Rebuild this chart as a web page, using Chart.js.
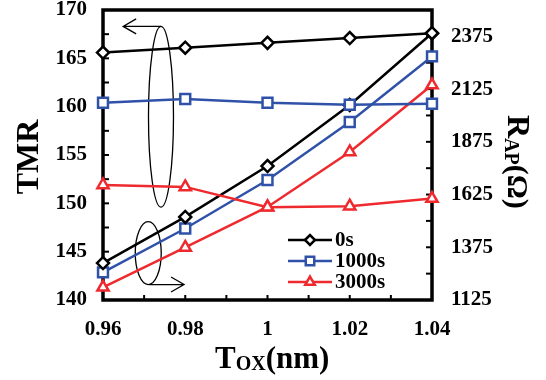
<!DOCTYPE html>
<html>
<head>
<meta charset="utf-8">
<script src="https://cdn.jsdelivr.net/npm/chart.js@4"></script>
<style>
  html, body { margin: 0; padding: 0; background: #fff; }
  #wrap { width: 546px; height: 380px; }
</style>
</head>
<body>
<div id="wrap"><canvas id="myChart"></canvas></div>
<script>
// datos
const tox = [0.96, 0.98, 1.0, 1.02, 1.04];
const series = ["0s", "1000s", "3000s"];

const tmr0 = [165.6, 166.1, 166.6, 167.1, 167.6];
const tmr1000 = [160.4, 160.8, 160.4, 160.2, 160.3];
const tmr3000 = [151.9, 151.7, 149.6, 149.7, 150.5];

const rap0 = [1300, 1519, 1760, 2050, 2390];
const rap1000 = [1256, 1464, 1694, 1969, 2280];
const rap3000 = [1185, 1374, 1566, 1827, 2144];

const xTicks = [0.96, 0.97, 0.98, 0.99, 1.0, 1.01, 1.02, 1.03, 1.04];
const rTicks = [1125, 1250, 1375, 1500, 1625, 1750, 1875, 2000, 2125, 2250, 2375, 2500];

const colores = ["#000000", "#2f52a8", "#ee2a2f"];
const marcas = ["rectRot", "rect", "triangle"];
const radios = [6, 7, 6.5];
const FONT = "'Liberation Serif', 'Times New Roman', serif";

const pares = (ys) => ys.map((y, i) => ({ x: tox[i], y: y }));

const serie = (label, ys, k, eje) => ({
	label: label,
	data: pares(ys),
	yAxisID: eje,
	borderColor: colores[k],
	backgroundColor: "#ffffff",
	borderWidth: 2.5,
	pointStyle: marcas[k],
	pointRadius: radios[k],
	pointBorderWidth: 2.5,
	pointBackgroundColor: "#ffffff",
	pointBorderColor: colores[k],
	tension: 0,
	clip: false,
});

// quita el relleno automatico de las escalas para fijar el area del grafico
const sinPadding = (s) => {
	s.paddingTop = 0;
	s.paddingBottom = 0;
	s.paddingLeft = 0;
	s.paddingRight = 0;
};

// marco, ticks hacia adentro, leyenda, elipses y titulos
const extras = {
	id: "extras",
	beforeDatasetsDraw(chart) {
		const { ctx, chartArea: a, scales } = chart;
		ctx.save();
		ctx.strokeStyle = "#000";
		ctx.lineWidth = 3.5;
		ctx.strokeRect(a.left, a.top, a.right - a.left, a.bottom - a.top);
		ctx.lineWidth = 2;
		scales.y.ticks.forEach((t) => {
			const y = scales.y.getPixelForValue(t.value);
			ctx.beginPath(); ctx.moveTo(a.left, y); ctx.lineTo(a.left + 6, y); ctx.stroke();
		});
		scales.y2.ticks.forEach((t) => {
			const y = scales.y2.getPixelForValue(t.value);
			ctx.beginPath(); ctx.moveTo(a.right, y); ctx.lineTo(a.right - 6, y); ctx.stroke();
		});
		scales.x.ticks.forEach((t) => {
			const x = scales.x.getPixelForValue(t.value);
			ctx.beginPath(); ctx.moveTo(x, a.bottom); ctx.lineTo(x, a.bottom - 5); ctx.stroke();
		});

		// elipses con flechas
		const px = (v) => scales.x.getPixelForValue(v);
		const py = (v) => scales.y.getPixelForValue(v);
		ctx.lineWidth = 1.3;
		const elipse = (cx, y1, y2, rx) => {
			ctx.beginPath();
			ctx.ellipse(px(cx), (py(y1) + py(y2)) / 2, rx, Math.abs(py(y1) - py(y2)) / 2, 0, 0, Math.PI * 2);
			ctx.stroke();
		};
		const flecha = (x1, x2, yv) => {
			const y = py(yv), xa = px(x1), xb = px(x2);
			const d = xb > xa ? -1 : 1;
			ctx.beginPath();
			ctx.moveTo(xa, y); ctx.lineTo(xb, y);
			ctx.moveTo(xb + d * 13, y - 7.5); ctx.lineTo(xb, y); ctx.lineTo(xb + d * 13, y + 7.5);
			ctx.stroke();
		};
		elipse(0.9741, 168.3, 149.6, 12.5);
		flecha(0.9741, 0.9649, 168.3);
		elipse(0.9710, 148.1, 141.6, 13);
		flecha(0.9712, 0.9797, 141.6);
		ctx.restore();
	},
	afterDatasetsDraw(chart) {
		const { ctx, chartArea: a } = chart;
		ctx.save();
		// leyenda
		series.forEach((s, k) => {
			const y = a.top + 230 + k * 21;
			const x0 = a.left + 185;
			ctx.strokeStyle = colores[k];
			ctx.lineWidth = 2.5;
			ctx.beginPath(); ctx.moveTo(x0, y); ctx.lineTo(x0 + 44, y); ctx.stroke();
			ctx.fillStyle = "#ffffff";
			Chart.helpers.drawPoint(ctx, { pointStyle: marcas[k], radius: radios[k] - 1, borderWidth: 2.5 }, x0 + 22, y);
			ctx.fillStyle = "#000";
			ctx.font = "bold 21px " + FONT;
			ctx.textBaseline = "middle";
			ctx.textAlign = "left";
			ctx.fillText(s, x0 + 47, y + 1);
		});

		ctx.fillStyle = "#000";
		ctx.textBaseline = "alphabetic";
		ctx.textAlign = "left";
		// titulo eje x: T_OX(nm)
		let x = 215;
		const yb = 368;
		ctx.font = "bold 31px " + FONT;
		ctx.fillText("T", x, yb);
		x += ctx.measureText("T").width;
		ctx.font = "bold 20px " + FONT;
		ctx.fillText("OX", x, yb + 2);
		x += ctx.measureText("OX").width;
		ctx.font = "bold 31px " + FONT;
		ctx.fillText("(nm)", x, yb);

		// titulo eje izquierdo
		ctx.save();
		ctx.translate(38, (a.top + a.bottom) / 2 + 2);
		ctx.rotate(-Math.PI / 2);
		ctx.textAlign = "center";
		ctx.font = "bold 32px " + FONT;
		ctx.fillText("TMR", 0, 0);
		ctx.restore();

		// titulo eje derecho: R_AP(Ω)
		ctx.save();
		ctx.translate(508, 115);
		ctx.rotate(Math.PI / 2);
		let t = 0;
		ctx.font = "bold 32px " + FONT;
		ctx.fillText("R", t, 0);
		t += ctx.measureText("R").width;
		ctx.font = "bold 20px " + FONT;
		ctx.fillText("AP", t, 3);
		t += ctx.measureText("AP").width;
		ctx.font = "bold 30px " + FONT;
		ctx.fillText("(Ω)", t, 0);
		ctx.restore();
		ctx.restore();
	},
};

const fmt = (v) => String(Number(v.toFixed(2)));

const config = {
	type: "line",
	data: {
		datasets: [
			serie(series[0], tmr0, 0, "y"),
			serie(series[1], tmr1000, 1, "y"),
			serie(series[2], tmr3000, 2, "y"),
			serie(series[0], rap0, 0, "y2"),
			serie(series[1], rap1000, 1, "y2"),
			serie(series[2], rap3000, 2, "y2"),
		],
	},
	options: {
		responsive: true,
		maintainAspectRatio: false,
		animation: false,
		layout: { padding: { top: 10, left: 0, right: 0, bottom: 0 } },
		plugins: { legend: { display: false }, tooltip: { enabled: false } },
		scales: {
			x: {
				type: "linear",
				min: 0.96,
				max: 1.04,
				afterBuildTicks: (s) => { s.ticks = xTicks.map((v) => ({ value: v })); },
				afterFit: (s) => { s.height = 80; sinPadding(s); },
				grid: { display: false, drawTicks: false },
				border: { display: false },
				ticks: {
					autoSkip: false,
					maxRotation: 0,
					padding: 17,
					color: "#000",
					font: { family: FONT, size: 21, weight: "bold" },
					callback: (v, i) => (i % 2 === 0 ? fmt(v) : ""),
				},
			},
			y: {
				position: "left",
				min: 140,
				max: 170,
				afterFit: (s) => { s.width = 103; sinPadding(s); },
				grid: { display: false, drawTicks: false },
				border: { display: false },
				ticks: {
					stepSize: 2.5,
					autoSkip: false,
					padding: 16,
					color: "#000",
					font: { family: FONT, size: 21, weight: "bold" },
					callback: (v) => (v % 5 === 0 ? v : ""),
				},
			},
			y2: {
				position: "right",
				min: 1125,
				max: 2500,
				afterBuildTicks: (s) => { s.ticks = rTicks.map((v) => ({ value: v })); },
				afterFit: (s) => { s.width = 114; sinPadding(s); },
				grid: { display: false, drawTicks: false },
				border: { display: false },
				ticks: {
					autoSkip: false,
					padding: 19,
					color: "#000",
					font: { family: FONT, size: 21, weight: "bold" },
					callback: (v) => ((v - 1125) % 250 === 0 ? v : ""),
				},
			},
		},
	},
	plugins: [extras],
};

new Chart(document.getElementById("myChart"), config);
</script>
</body>
</html>
